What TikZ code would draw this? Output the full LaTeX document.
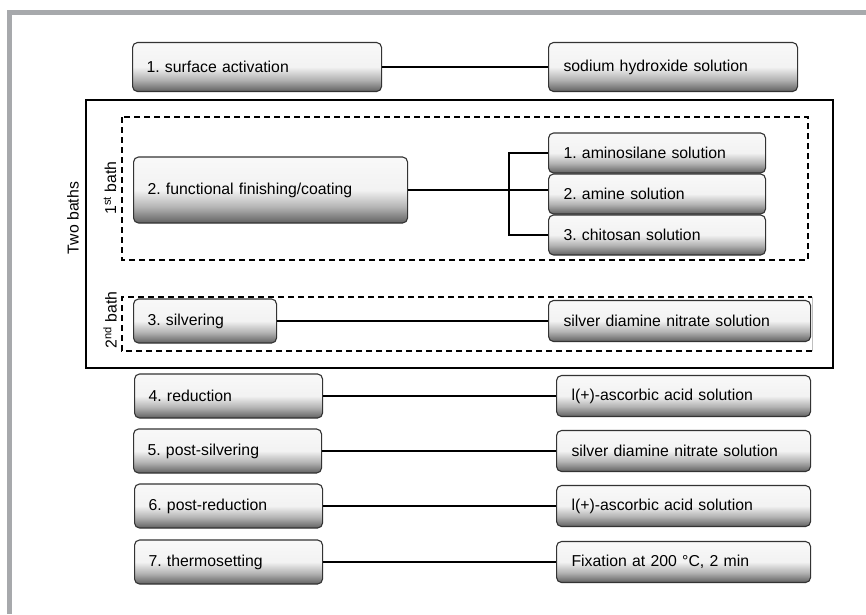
\documentclass[tikz,border=0pt]{standalone}
\usepackage{fontspec}
\setmainfont{Liberation Sans}
\frenchspacing
\definecolor{framegray}{HTML}{A7A9AC}
\definecolor{boxline}{HTML}{333333}
\pgfdeclareverticalshading{boxshade}{100bp}{color(0bp)=(black!62); color(25bp)=(black!62); color(37bp)=(black!30); color(50bp)=(black!5); color(100bp)=(white)}

\begin{document}
\begin{tikzpicture}[x=1pt, y=-1pt, every node/.style={font=\fontsize{15.8}{18}\selectfont},
    stage/.style={rectangle, draw=boxline, line width=1.1pt, rounded corners=5pt, shading=boxshade, anchor=west, align=left, inner xsep=14pt, inner ysep=0pt},
    agent/.style={stage, inner xsep=15pt},
    link/.style={line width=1.4pt},
    bathbox/.style={dashed, dash pattern=on 6pt off 4pt, line width=1.4pt}]
                        \useasboundingbox (0,0) rectangle (866,614);
                        \fill[framegray] (7,10) rectangle (866,15);
                        \fill[framegray] (7,10) rectangle (12,614);

                        % baths
                        \draw[line width=1.4pt] (86,100) rectangle (833,368);
                        \draw[bathbox] (122,117) rectangle (808,260);
                        \draw[bathbox] (812,351) -- (122,351) -- (122,297) -- (812,297);
                        \draw[black!25, line width=0.6pt] (812,297) -- (812,351);
                        \node[rotate=90] (twobaths) at (73,218) {Two baths};
                        \node[rotate=90] (bath1) at (110,188) {1\textsuperscript{st} bath};
                        \node[rotate=90] (bath2) at (110,320) {2\textsuperscript{nd} bath};

                        % steps
                        \node[stage, text width=221pt, minimum height=49pt] (act) at (132,67) {1. surface activation};
                        \node[stage, text width=246pt, minimum height=66pt] (coat) at (133,190) {2. functional finishing/coating};
                        \node[stage, text width=115pt, minimum height=44pt] (silv) at (133,321) {3. silvering};
                        \node[stage, text width=160pt, minimum height=44pt] (red) at (134,396) {4. reduction};
                        \node[stage, text width=160pt, minimum height=44pt] (psilv) at (133,451) {5. post-silvering};
                        \node[stage, text width=160pt, minimum height=44pt] (pred) at (134,506) {6. post-reduction};
                        \node[stage, text width=160pt, minimum height=44pt] (therm) at (134,562) {7. thermosetting};

                        % agents
                        \node[agent, text width=219pt, minimum height=49pt] (naoh) at (548,67) {sodium hydroxide solution};
                        \node[agent, text width=187pt, minimum height=40pt] (amsil) at (548,153) {1. aminosilane solution};
                        \node[agent, text width=187pt, minimum height=40pt] (amine) at (548,194) {2. amine solution};
                        \node[agent, text width=187pt, minimum height=40pt] (chit) at (548,235) {3. chitosan solution};
                        \node[agent, text width=232pt, minimum height=41pt] (sdna) at (548,321) {silver diamine nitrate solution};
                        \node[agent, text width=224pt, minimum height=41pt] (asca) at (556,396) {l(+)-ascorbic acid solution};
                        \node[agent, text width=224pt, minimum height=41pt] (sdnb) at (556,451) {silver diamine nitrate solution};
                        \node[agent, text width=224pt, minimum height=41pt] (ascb) at (556,506) {l(+)-ascorbic acid solution};
                        \node[agent, text width=224pt, minimum height=41pt] (fix) at (556,562) {Fixation at 200~°C, 2 min};

                        \coordinate (fork) at (509,190);
                        \draw[link] (act) -- (naoh);
                        \draw[link] (coat.east) -- (coat.east -| amine.west);
                        \draw[link] (amsil.west) -- (fork |- amsil.west) -- (fork |- chit.west) -- (chit.west);
                        \draw[link] (silv) -- (sdna);
                        \draw[link] (red) -- (asca);
                        \draw[link] (psilv) -- (sdnb);
                        \draw[link] (pred) -- (ascb);
                        \draw[link] (therm) -- (fix);
                    \end{tikzpicture}
\end{document}
